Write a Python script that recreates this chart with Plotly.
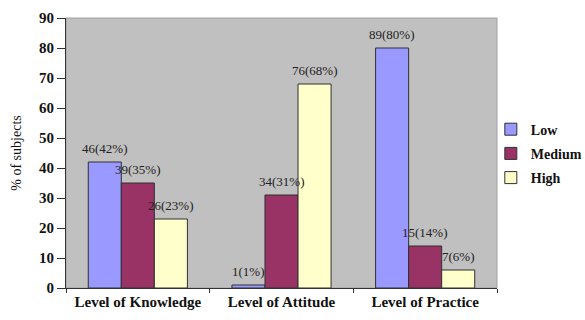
import plotly.graph_objects as go

categories = ["Level of Knowledge", "Level of Attitude", "Level of Practice"]
series_names = ["Low", "Medium", "High"]
low_pct = [42, 1, 80]
medium_pct = [35, 31, 14]
high_pct = [23, 68, 6]
low_n = [46, 1, 89]
medium_n = [39, 34, 15]
high_n = [26, 76, 7]
colors = ["#9999FF", "#993366", "#FFFFCC"]

serif = "Liberation Serif"

BAR_PX = 33  # approximate bar width in pixels, used to centre labels on bars

fig = go.Figure()
all_pct = [low_pct, medium_pct, high_pct]
all_n = [low_n, medium_n, high_n]
for i, (name, pct, n) in enumerate(zip(series_names, all_pct, all_n)):
    fig.add_trace(go.Bar(
        x=categories, y=pct, name=name,
        marker=dict(color=colors[i], line=dict(color="#303030", width=1)),
        legendgroup=name,
    ))
    for c, v, k in zip(categories, pct, n):
        fig.add_annotation(
            x=c, y=v, xref="x", yref="y", text=f"{k}({v}%)", showarrow=False,
            yanchor="bottom", yshift=4, xshift=(i - 1) * BAR_PX,
            font=dict(family=serif, size=13, color="#222222"),
        )

fig.update_layout(
    width=585, height=320,
    margin=dict(l=66, r=88, t=18, b=32, autoexpand=False),
    paper_bgcolor="white", plot_bgcolor="#C0C0C0",
    barmode="group", bargap=0.31, bargroupgap=0,
    showlegend=True,
    legend=dict(xref="container", yref="container", x=0.839, y=0.52,
                xanchor="left", yanchor="middle",
                font=dict(family=serif, size=14, color="#111111", weight="bold"),
                tracegroupgap=3, itemwidth=30, bgcolor="rgba(0,0,0,0)"),
    font=dict(family=serif, color="#111111"),
)
fig.update_xaxes(
    showline=True, linecolor="#333333", linewidth=1,
    ticks="outside", tickson="boundaries", ticklen=4, tickcolor="#333333",
    tickfont=dict(family=serif, size=15, color="#111111", weight="bold"),
    showgrid=False,
)
fig.update_yaxes(
    range=[0, 90], dtick=10, showline=True, linecolor="#333333", linewidth=1,
    ticks="outside", ticklen=8, tickcolor="#333333", showgrid=False, zeroline=False,
    tickfont=dict(family=serif, size=15, color="#111111", weight="bold"),
    title=dict(text="% of subjects", font=dict(family=serif, size=14, color="#111111"), standoff=14),
)
fig.add_shape(type="rect", xref="x domain", yref="y domain", x0=0, x1=1, y0=0, y1=1,
              line=dict(color="#A0A0A0", width=1), layer="below")
fig.write_html("out.html")
